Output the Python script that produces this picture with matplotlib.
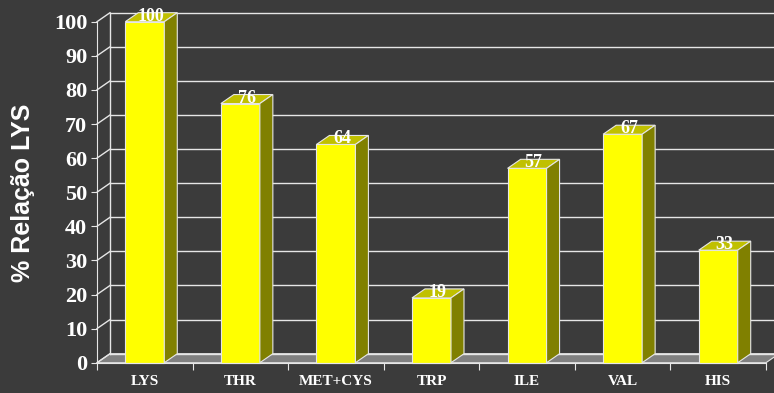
import matplotlib.pyplot as plt
from matplotlib.patches import Polygon

# Amino acid profile relative to lysine
aminoacids = ["LYS", "THR", "MET+CYS", "TRP", "ILE", "VAL", "HIS"]
relacao = [100, 76, 64, 19, 57, 67, 33]
yticks = list(range(0, 101, 10))

bg = "#3b3b3b"
front_col = "#ffff00"
top_col = "#c0c000"
side_col = "#808000"
floor_col = "#808080"
line_col = "#e6e6e6"

# depth of the fake 3D box, in data units
dx, dy = 0.136, 2.64
half_w = 0.204

fig = plt.figure(figsize=(7.74, 3.93), dpi=100, facecolor=bg)
ax = fig.add_axes([97 / 774, 30.3 / 393, 669 / 774, 341 / 393])
ax.set_facecolor("none")
ax.set_xlim(0, len(aminoacids))
ax.set_ylim(0, 100)
n = len(aminoacids)
xr = 7.3

# floor
ax.add_patch(Polygon([(0, 0), (n, 0), (n + dx, dy), (dx, dy)], closed=True,
                     facecolor=floor_col, edgecolor=line_col, lw=0.8,
                     clip_on=False, zorder=1))

# back wall and side wall grid
for t in yticks:
    ax.plot([dx, xr], [t + dy, t + dy], color=line_col, lw=1, clip_on=False, zorder=1)
    ax.plot([0, dx], [t, t + dy], color=line_col, lw=1, clip_on=False, zorder=1)
ax.plot([dx, dx], [dy, 100 + dy], color=line_col, lw=1, clip_on=False, zorder=1)

# bars
for i, v in enumerate(relacao):
    x0 = i + 0.5 - half_w
    x1 = i + 0.5 + half_w
    ax.add_patch(Polygon([(x0, 0), (x1, 0), (x1, v), (x0, v)], closed=True,
                         facecolor=front_col, edgecolor=line_col, lw=0.8,
                         clip_on=False, zorder=3))
    ax.add_patch(Polygon([(x0, v), (x1, v), (x1 + dx, v + dy), (x0 + dx, v + dy)],
                         closed=True, facecolor=top_col, edgecolor=line_col,
                         lw=0.8, clip_on=False, zorder=3))
    ax.add_patch(Polygon([(x1, 0), (x1 + dx, dy), (x1 + dx, v + dy), (x1, v)],
                         closed=True, facecolor=side_col, edgecolor=line_col,
                         lw=0.8, clip_on=False, zorder=3))
    ax.text(i + 0.5 + dx / 2, v + 0.3, str(v), ha="center", va="baseline",
            color="white", fontsize=13, fontweight="bold",
            family="Liberation Serif", zorder=4)

# axes, ticks and labels
for s in ["top", "right"]:
    ax.spines[s].set_visible(False)
for s in ["left", "bottom"]:
    ax.spines[s].set_color(line_col)
    ax.spines[s].set_zorder(5)

ax.set_yticks(yticks)
ax.set_yticklabels([str(t) for t in yticks], fontsize=16, fontweight="bold",
                   family="Liberation Serif", color="white")
ax.tick_params(axis="y", length=4, color=line_col, pad=3)

ax.set_xticks(range(n + 1))
ax.set_xticklabels([])
ax.tick_params(axis="x", which="major", length=5, color=line_col)
ax.set_xticks([i + 0.5 for i in range(n)], minor=True)
ax.set_xticklabels(aminoacids, minor=True, fontsize=11, fontweight="bold",
                   family="Liberation Serif", color="white")
ax.tick_params(axis="x", which="minor", length=0, pad=9)

fig.text(23 / 774, 1 - 193 / 393, "% Relação LYS", rotation=90, ha="center",
         va="center", color="white", fontsize=18, fontweight="bold",
         family="Liberation Sans")

fig.savefig("out.png", dpi=100, facecolor=bg)
